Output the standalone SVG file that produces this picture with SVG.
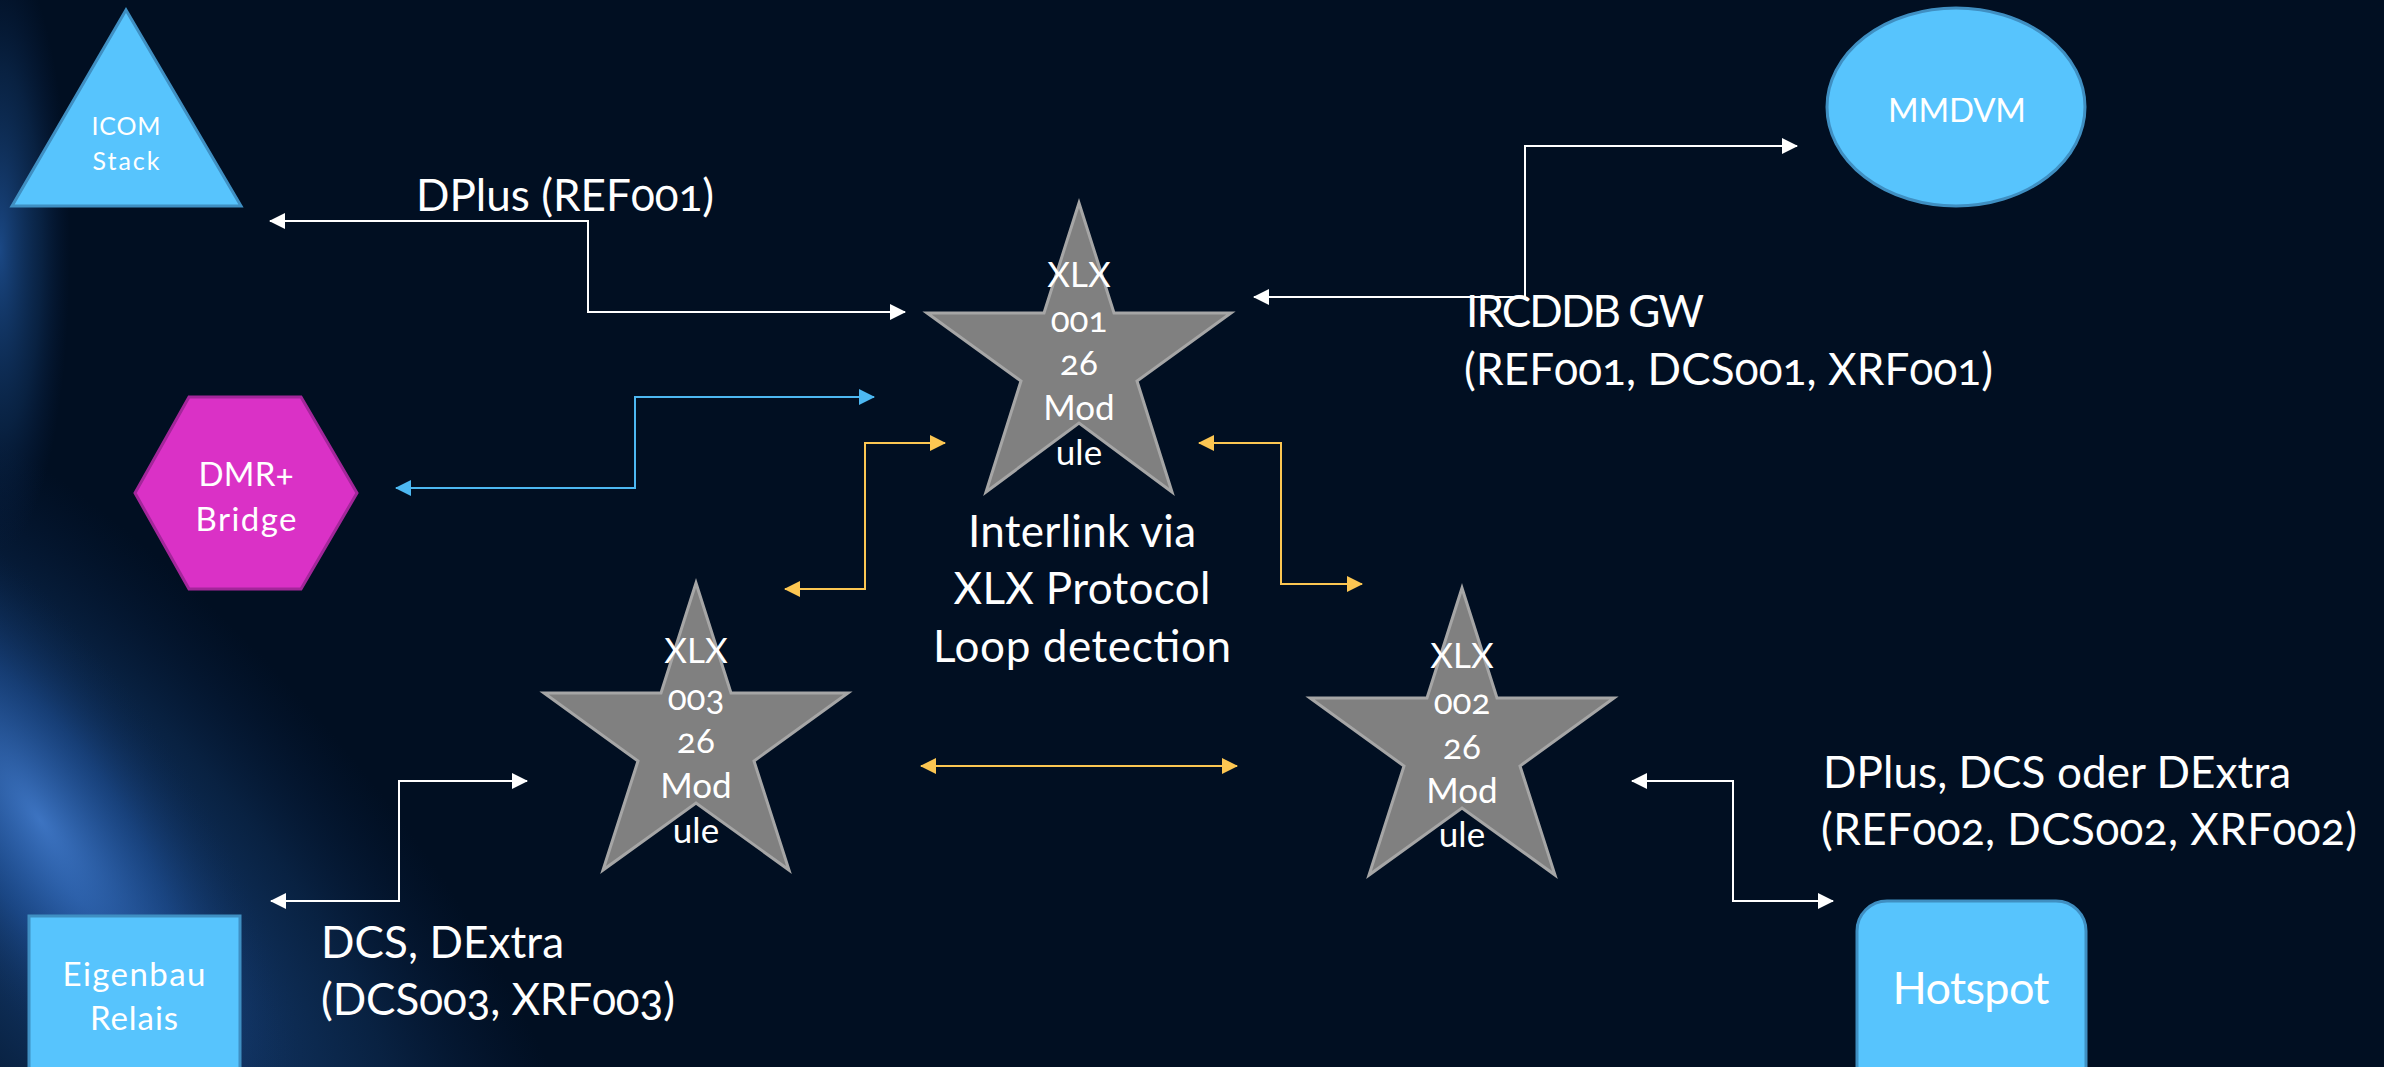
<svg xmlns="http://www.w3.org/2000/svg" width="2384" height="1067" viewBox="0 0 2384 1067">
<style>
text{font-family:Lato,"Noto Sans","Liberation Sans",sans-serif;fill:#ffffff;font-variant-numeric:oldstyle-nums}
.big{font-size:44px}
.node{font-size:33px;text-anchor:middle}
.star{font-size:35px;text-anchor:middle}
.mid{text-anchor:middle}
.blue{fill:#57c4fd;stroke:#3f8fc2;stroke-width:3}
.mag{fill:#da31c6;stroke:#a3269a;stroke-width:3}
.xlx{fill:#808080;stroke:#a6a6a6;stroke-width:3;stroke-linejoin:miter}
.cw{fill:none;stroke:#ffffff;stroke-width:2;marker-start:url(#aw);marker-end:url(#aw)}
.cy{fill:none;stroke:#fcc652;stroke-width:2;marker-start:url(#ay);marker-end:url(#ay)}
.cb{fill:none;stroke:#4db8f2;stroke-width:2;marker-start:url(#ab);marker-end:url(#ab)}
</style>
<defs>
<marker id="aw" markerUnits="userSpaceOnUse" markerWidth="16" markerHeight="16" viewBox="0 0 16 16" refX="15" refY="8" orient="auto-start-reverse"><path d="M0,0 L16,8 L0,16 z" fill="#ffffff"/></marker>
<marker id="ay" markerUnits="userSpaceOnUse" markerWidth="16" markerHeight="16" viewBox="0 0 16 16" refX="15" refY="8" orient="auto-start-reverse"><path d="M0,0 L16,8 L0,16 z" fill="#fcc652"/></marker>
<marker id="ab" markerUnits="userSpaceOnUse" markerWidth="16" markerHeight="16" viewBox="0 0 16 16" refX="15" refY="8" orient="auto-start-reverse"><path d="M0,0 L16,8 L0,16 z" fill="#4db8f2"/></marker>
<radialGradient id="glow" cx="0.5" cy="0.5" r="0.5">
<stop offset="0" stop-color="#4a86dc" stop-opacity="0.75"/>
<stop offset="0.5" stop-color="#2459a8" stop-opacity="0.4"/>
<stop offset="1" stop-color="#0a2550" stop-opacity="0"/>
</radialGradient>
<radialGradient id="glow2" cx="0.5" cy="0.5" r="0.5">
<stop offset="0" stop-color="#1f5296" stop-opacity="0.85"/>
<stop offset="0.6" stop-color="#123868" stop-opacity="0.45"/>
<stop offset="1" stop-color="#0a2550" stop-opacity="0"/>
</radialGradient>
</defs>
<rect id="background" x="0" y="0" width="2384" height="1067" fill="#010f22"/>
<g id="bg-glow">
<ellipse cx="80" cy="900" rx="720" ry="300" fill="url(#glow2)" transform="rotate(48 80 900)"/>
<ellipse cx="40" cy="820" rx="420" ry="150" fill="url(#glow)" transform="rotate(55 40 820)"/>
<ellipse cx="0" cy="250" rx="70" ry="300" fill="url(#glow2)"/>
</g>
<g id="connectors">
<path class="cw" d="M270 221 H588 V312 H905"/>
<path class="cw" d="M1254 297 H1525 V146 H1797"/>
<path class="cb" d="M396 488 H635 V397 H874"/>
<path class="cy" d="M785 589 H865 V443 H945"/>
<path class="cy" d="M1199 443 H1281 V584 H1362"/>
<path class="cy" d="M921 766 H1237"/>
<path class="cw" d="M271 901 H399 V781 H527"/>
<path class="cw" d="M1632 781 H1733 V901 H1833"/>
</g>
<g id="icom">
<polygon class="blue" points="126,10 241,206 12,206"/>
<text class="mid" style="font-size:25px" x="126" y="135" textLength="69">ICOM</text>
<text class="mid" style="font-size:25px" x="126" y="170" textLength="67">Stack</text>
</g>
<g id="mmdvm">
<ellipse class="blue" cx="1956" cy="107" rx="129" ry="99"/>
<text class="node" x="1957" y="122" textLength="138">MMDVM</text>
</g>
<g id="dmr">
<polygon class="mag" points="189,397 301,397 357,493 301,589 189,589 135,493"/>
<text class="node" x="246" y="486" textLength="95">DMR+</text>
<text class="node" x="246" y="531" textLength="101">Bridge</text>
</g>
<g id="eigenbau">
<rect class="blue" x="29" y="916" width="211" height="170"/>
<text class="node" x="134" y="986" textLength="143">Eigenbau</text>
<text class="node" x="134" y="1030" textLength="88">Relais</text>
</g>
<g id="hotspot">
<rect class="blue" x="1857" y="901" width="229" height="200" rx="30"/>
<text class="mid" style="font-size:45px" x="1971" y="1004" textLength="157">Hotspot</text>
</g>
<g id="xlx001">
<polygon class="xlx" points="1079,203 1114,313 1231,313 1137,381 1172,492 1079,423 986,492 1021,381 927,313 1044,313"/>
<text class="star" x="1079" y="287">XLX</text>
<text class="star" x="1079" y="332">001</text>
<text class="star" x="1079" y="375">26</text>
<text class="star" x="1079" y="420">Mod</text>
<text class="star" x="1079" y="465">ule</text>
</g>
<g id="xlx003">
<polygon class="xlx" points="696,583 731,693 848,693 754,761 789,870 696,803 603,870 638,761 544,693 661,693"/>
<text class="star" x="696" y="663">XLX</text>
<text class="star" x="696" y="710">003</text>
<text class="star" x="696" y="753">26</text>
<text class="star" x="696" y="798">Mod</text>
<text class="star" x="696" y="843">ule</text>
</g>
<g id="xlx002">
<polygon class="xlx" points="1462,588 1497,698 1614,698 1520,766 1555,875 1462,808 1369,875 1404,766 1310,698 1427,698"/>
<text class="star" x="1462" y="668">XLX</text>
<text class="star" x="1462" y="714">002</text>
<text class="star" x="1462" y="759">26</text>
<text class="star" x="1462" y="803">Mod</text>
<text class="star" x="1462" y="847">ule</text>
</g>
<g id="labels">
<text class="big" x="416" y="211" textLength="298">DPlus (REF001)</text>
<text class="big" x="1466" y="327" textLength="238">IRCDDB GW</text>
<text class="big" x="1464" y="385" textLength="529">(REF001, DCS001, XRF001)</text>
<text class="big mid" x="1082" y="547" textLength="228">Interlink via</text>
<text class="big mid" x="1082" y="604" textLength="257">XLX Protocol</text>
<text class="big mid" x="1082" y="662" textLength="298">Loop detection</text>
<text class="big" x="321" y="958" textLength="243">DCS, DExtra</text>
<text class="big" x="321" y="1015" textLength="354">(DCS003, XRF003)</text>
<text class="big" x="1823" y="788" textLength="468">DPlus, DCS oder DExtra</text>
<text class="big" x="1821" y="845" textLength="536">(REF002, DCS002, XRF002)</text>
</g>
</svg>
